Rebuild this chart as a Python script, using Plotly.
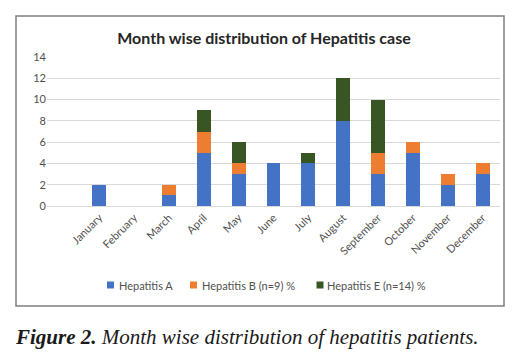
import plotly.graph_objects as go

months = ["January", "February", "March", "April", "May", "June", "July",
          "August", "September", "October", "November", "December"]
hep_a = [2, 0, 1, 5, 3, 4, 4, 8, 3, 5, 2, 3]
hep_b = [0, 0, 1, 2, 1, 0, 0, 0, 2, 1, 1, 1]
hep_e = [0, 0, 0, 2, 2, 0, 1, 4, 5, 0, 0, 0]
series_names = ["Hepatitis A", "Hepatitis B (n=9) %", "Hepatitis E (n=14) %"]
series_colors = ["#4472C4", "#ED7D31", "#375623"]
y_ticks = [0, 2, 4, 6, 8, 10, 12, 14]

W, H = 532, 357
L, R, T, B = 47, 32, 57, 151
pw = W - L - R
ph = H - T - B

def px(x):
    return (x - L) / pw

def py(y):
    return (H - B - y) / ph

fig = go.Figure()
for vals, name, col in zip([hep_a, hep_b, hep_e], series_names, series_colors):
    fig.add_trace(go.Bar(x=months, y=vals, name=name, marker_color=col,
                         marker_line_width=0, showlegend=False))

shapes = [dict(type="rect", xref="paper", yref="paper",
               x0=px(16), x1=px(504), y0=py(306), y1=py(16),
               line=dict(color="#7F7F7F", width=1.5), fillcolor="rgba(0,0,0,0)")]
annotations = [dict(text="<b><i>Figure 2.</i></b><i> Month wise distribution of hepatitis patients.</i>",
                    xref="paper", yref="paper", x=px(13), y=py(337),
                    xanchor="left", yanchor="middle", showarrow=False,
                    font=dict(family="Liberation Serif", size=21, color="#1a1a1a"))]

# manual legend (symbol centre x, text start x)
leg_pos = [(110.5, 117), (193.5, 200), (320, 325)]
leg_y = 285
for (sx, tx), name, col in zip(leg_pos, series_names, series_colors):
    shapes.append(dict(type="rect", xref="paper", yref="paper",
                       x0=px(sx - 3.5), x1=px(sx + 3.5), y0=py(leg_y + 3.5), y1=py(leg_y - 3.5),
                       line=dict(width=0), fillcolor=col))
    annotations.append(dict(text=name, xref="paper", yref="paper", x=px(tx), y=py(leg_y),
                            xanchor="left", yanchor="middle", showarrow=False,
                            font=dict(family="Lato", size=11, color="#505050")))

fig.update_layout(
    barmode="stack",
    bargap=0.6,
    width=W, height=H,
    margin=dict(l=L, r=R, t=T, b=B, autoexpand=False),
    paper_bgcolor="white",
    plot_bgcolor="white",
    font=dict(family="Lato", size=11, color="#505050"),
    title=dict(text="<b>Month wise distribution of Hepatitis case</b>",
               x=px(264), xref="paper", xanchor="center",
               y=1 - 38 / H, yanchor="middle",
               font=dict(family="Lato", size=16, color="#262626")),
    showlegend=False,
    hovermode=False,
    xaxis=dict(type="category", range=[-1.5, 11.5], tickangle=-45,
               showgrid=False, showline=True, linecolor="#D9D9D9", ticks="",
               tickfont=dict(size=11)),
    yaxis=dict(range=[0, 14], tickvals=y_ticks, showgrid=True, gridcolor="#D9D9D9",
               zeroline=False, showline=False, ticks="", tickfont=dict(size=11)),
    shapes=shapes,
    annotations=annotations,
)

fig.write_html("out.html", config={"displayModeBar": False},
               post_script="document.body.style.margin='0';")
